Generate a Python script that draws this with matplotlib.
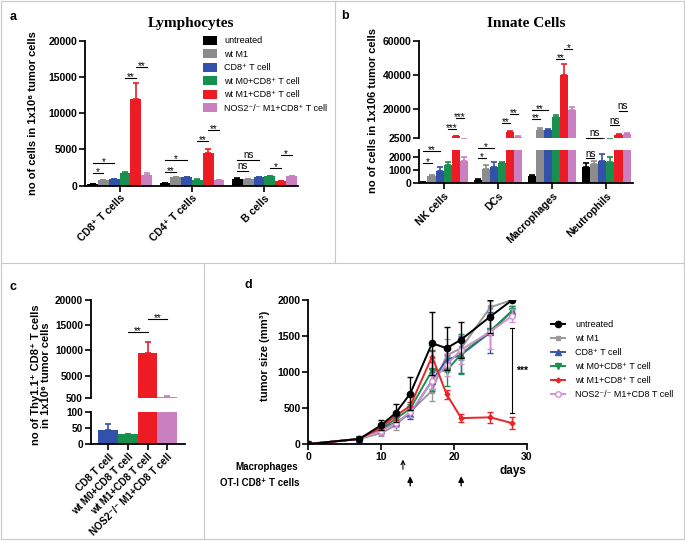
import numpy as np
import matplotlib
matplotlib.use('Agg')
import matplotlib.pyplot as plt
from matplotlib.lines import Line2D

plt.rcParams['font.family'] = ['Liberation Sans', 'DejaVu Sans']
plt.rcParams['font.weight'] = 'bold'

W, H = 685, 541

# treatment groups shared by panels a and b
groups = ['untreated', 'wt M1', 'CD8⁺ T cell', 'wt M0+CD8⁺ T cell',
          'wt M1+CD8⁺ T cell', 'NOS2⁻/⁻ M1+CD8⁺ T cell']
colors = ['#000000', '#8c8c8c', '#3152a8', '#16904c', '#ed1c24', '#c97fc0']

# panel a - lymphocytes
lymph_cats = ['CD8⁺ T cells', 'CD4⁺ T cells', 'B cells']
cd8_vals = [200, 700, 850, 1750, 12000, 1500]
cd8_err = [30, 60, 80, 100, 2100, 200]
cd4_vals = [300, 1150, 1150, 800, 4500, 750]
cd4_err = [40, 80, 80, 60, 550, 60]
bcell_vals = [950, 850, 1150, 1250, 600, 1250]
bcell_err = [100, 60, 80, 80, 60, 100]

# panel b - innate cells
innate_cats = ['NK cells', 'DCs', 'Macrophages', 'Neutrophils']
nk_vals = [80, 550, 950, 1350, 3700, 1700]
nk_err = [20, 60, 250, 250, 400, 250]
dc_vals = [280, 1100, 1250, 1500, 6000, 3300]
dc_err = [50, 250, 330, 120, 800, 300]
mac_vals = [550, 7400, 7200, 14900, 39800, 19200]
mac_err = [60, 1000, 600, 1300, 6500, 1900]
neu_vals = [1250, 1450, 1650, 1600, 4500, 5000]
neu_err = [250, 200, 550, 350, 500, 800]

# panel c - Thy1.1+ CD8+ T cells
thy_cats = ['CD8 T cell', 'wt M0+CD8 T cell', 'wt M1+CD8 T cell', 'NOS2⁻/⁻ M1+CD8 T cell']
thy_vals = [43, 30, 9450, 800]
thy_err = [18, 2, 2300, 60]

# panel d - tumor growth
days = [0, 7, 10, 12, 14, 17, 19, 21, 25, 28]
untreated_size = [0, 70, 260, 430, 700, 1400, 1330, 1450, 1770, 2000]
untreated_sem = [0, 10, 70, 120, 230, 440, 300, 250, 230, 0]
wtm1_size = [0, 70, 150, 260, 450, 740, 1230, 1330, 1900, 2000]
wtm1_sem = [0, 10, 40, 60, 70, 140, 230, 170, 80, 0]
cd8_size = [0, 70, 200, 300, 420, 880, 1170, 1240, 1550, 1850]
cd8_sem = [0, 10, 40, 50, 70, 120, 130, 260, 280, 60]
m0cd8_size = [0, 70, 200, 350, 490, 1020, 1020, 1250, 1570, 1850]
m0cd8_sem = [0, 10, 40, 50, 60, 280, 220, 280, 30, 60]
m1cd8_size = [0, 70, 230, 390, 530, 1215, 690, 360, 370, 290]
m1cd8_sem = [0, 10, 40, 60, 60, 80, 60, 60, 80, 80]
nos2_size = [0, 70, 180, 290, 440, 870, 1100, 1310, 1560, 1780]
nos2_sem = [0, 10, 40, 50, 60, 100, 150, 200, 240, 90]
d_labels = ['untreated', 'wt M1', 'CD8⁺ T cell', 'wt M0+CD8⁺ T cell',
            'wt M1+CD8⁺ T cell', 'NOS2⁻/⁻ M1+CD8 T cell']


def box(l, t, r, b):
    return [l / W, 1 - b / H, (r - l) / W, (b - t) / H]


def style(ax, bottom=True, lsize=7.5):
    for s in ['top', 'right']:
        ax.spines[s].set_visible(False)
    ax.spines['left'].set_linewidth(1.3)
    ax.spines['bottom'].set_linewidth(1.3)
    ax.tick_params(width=1.2, length=4, labelsize=lsize, pad=1.5)
    if not bottom:
        ax.spines['bottom'].set_visible(False)
        ax.tick_params(axis='x', bottom=False, labelbottom=False)


def draw_bars(ax, vals, errs, step, cols, labels=None):
    vals = np.array(vals)
    errs = np.array(errs)
    for i in range(vals.shape[1]):
        x = np.arange(vals.shape[0]) * step + i
        ax.bar(x, vals[:, i], width=1.0, color=cols[i],
               label=None if labels is None else labels[i])
        ax.errorbar(x, vals[:, i], yerr=[np.zeros(len(x)), errs[:, i]], fmt='none',
                    ecolor=cols[i], elinewidth=1.2, capsize=2, capthick=1.2)


def sig(ax, x0, x1, y, txt):
    ax.plot([x0, x1], [y, y], color='k', lw=0.8, clip_on=False)
    dy = 1 if txt == 'ns' else -1.5
    ax.annotate(txt, ((x0 + x1) / 2, y), xytext=(0, dy), textcoords='offset points',
                ha='center', va='baseline', fontsize=7, fontweight='normal',
                annotation_clip=False)


fig = plt.figure(figsize=(W / 100, H / 100), dpi=100)

# ---------------- panel a
step = 6.7
axa = fig.add_axes(box(85, 40.7, 298, 185.5))
draw_bars(axa, [cd8_vals, cd4_vals, bcell_vals], [cd8_err, cd4_err, bcell_err],
          step, colors, groups)
style(axa)
axa.set_xlim(-0.7, 19.0)
axa.set_ylim(0, 20000)
axa.set_yticks([0, 5000, 10000, 15000, 20000])
axa.set_xticks(np.arange(3) * step + 2.5)
axa.set_xticklabels(lymph_cats, rotation=45, ha='right', rotation_mode='anchor')
axa.set_title('Lymphocytes', family='Liberation Serif', fontsize=11, fontweight='bold', pad=10)
axa.legend(loc='upper left', bbox_to_anchor=(203 / W, 1 - 36 / H),
           bbox_transform=fig.transFigure, frameon=False,
           prop={'size': 6.5, 'weight': 'normal'}, handlelength=1.55, handleheight=1.1,
           handletextpad=0.8, labelspacing=0.45, borderpad=0, borderaxespad=0)
for g, i, j, y, t in [(0, 0, 1, 1710, '*'), (0, 0, 2, 3170, '*'), (0, 3, 4, 14900, '**'),
                      (0, 4, 5, 16400, '**'), (1, 0, 1, 1930, '**'), (1, 0, 2, 3540, '*'),
                      (1, 3, 4, 6160, '**'), (1, 4, 5, 7680, '**'), (2, 0, 1, 2030, 'ns'),
                      (2, 0, 2, 3540, 'ns'), (2, 3, 4, 2400, '*'), (2, 4, 5, 4230, '*')]:
    sig(axa, g * step + i, g * step + j, y, t)
fig.text(33 / W, 1 - 113 / H, 'no of cells in 1x10⁶ tumor cells', rotation=90,
         ha='center', va='center', fontsize=8)

# ---------------- panel b (broken axis)
bvals = [nk_vals, dc_vals, mac_vals, neu_vals]
berrs = [nk_err, dc_err, mac_err, neu_err]
axbu = fig.add_axes(box(419, 40.7, 632.7, 138.3))
axbl = fig.add_axes(box(419, 150, 632.7, 183.3))
for ax in (axbu, axbl):
    draw_bars(ax, bvals, berrs, step, colors)
    ax.set_xlim(-0.55, 25.85)
style(axbu, bottom=False)
style(axbl)
axbu.set_ylim(2500, 60000)
axbu.set_yticks([2500, 20000, 40000, 60000])
axbl.set_ylim(0, 2500)
axbl.set_yticks([0, 1000, 2000])
axbl.set_xticks(np.arange(4) * step + 2.5)
axbl.set_xticklabels(innate_cats, rotation=45, ha='right', rotation_mode='anchor')
axbu.set_title('Innate Cells', family='Liberation Serif', fontsize=11, fontweight='bold', pad=10)
for ax, g, i, j, y, t in [(axbl, 0, 0, 1, 1547, '*'), (axbl, 0, 0, 2, 2425, '**'),
                          (axbu, 0, 3, 4, 7800, '***'), (axbu, 0, 4, 5, 14600, '***'),
                          (axbl, 1, 0, 1, 1877, '*'), (axbl, 1, 0, 2, 2673, '*'),
                          (axbu, 1, 3, 4, 11340, '**'), (axbu, 1, 4, 5, 16800, '**'),
                          (axbu, 2, 0, 1, 13700, '**'), (axbu, 2, 0, 2, 19200, '**'),
                          (axbu, 2, 3, 4, 49000, '**'), (axbu, 2, 4, 5, 54900, '*'),
                          (axbl, 3, 0, 1, 1877, 'ns'), (axbu, 3, 0, 2, 2850, 'ns'),
                          (axbu, 3, 3, 4, 10300, 'ns'), (axbu, 3, 4, 5, 18800, 'ns')]:
    sig(ax, g * step + i, g * step + j, y, t)
fig.text(373 / W, 1 - 111 / H, 'no of cells in 1x106 tumor cells', rotation=90,
         ha='center', va='center', fontsize=8)

# ---------------- panel c (broken axis)
axcu = fig.add_axes(box(90.7, 300, 185, 398.3))
axcl = fig.add_axes(box(90.7, 411.7, 185, 444))
xc = np.arange(len(thy_vals))
for ax in (axcu, axcl):
    ax.bar(xc, thy_vals, width=1.0, color=colors[2:])
    for k in range(len(xc)):
        ax.errorbar(xc[k], thy_vals[k], yerr=[[0], [thy_err[k]]], fmt='none',
                    ecolor=colors[2 + k], elinewidth=1.2, capsize=2.5, capthick=1.2)
    ax.set_xlim(-0.886, 3.9)
style(axcu, bottom=False, lsize=7.2)
style(axcl, lsize=7.2)
axcu.set_ylim(500, 20000)
axcu.set_yticks([500, 5000, 10000, 15000, 20000])
axcl.set_ylim(0, 100)
axcl.set_yticks([0, 50, 100])
axcl.set_xticks(xc)
axcl.set_xticklabels(thy_cats, rotation=45, ha='right', rotation_mode='anchor')
sig(axcu, 1, 2, 13600, '**')
sig(axcu, 2, 3, 16170, '**')
fig.text(41 / W, 1 - 375 / H, 'no of Thy1.1⁺ CD8⁺ T cells\nin 1x10⁶ tumor cells', rotation=90,
         ha='center', va='center', fontsize=8, linespacing=1.05, multialignment='center')

# ---------------- panel d
axd = fig.add_axes(box(308.3, 300, 526.7, 444))
style(axd)
series = [
    (wtm1_size, wtm1_sem, '#9a9a9a', 's', 3.5, 'k', 1),
    (cd8_size, cd8_sem, '#3a56a8', '^', 4, 'k', 2),
    (m0cd8_size, m0cd8_sem, '#1a9050', 'v', 4, 'k', 3),
    (nos2_size, nos2_sem, '#d490cf', 'o', 4, 'w', 5),
    (m1cd8_size, m1cd8_sem, '#e8262a', 'D', 2.5, 'k', 4),
    (untreated_size, untreated_sem, '#000000', 'o', 4.5, 'k', 0),
]
handles = [None] * 6
for vals, err, c, m, ms, fc, idx in series:
    axd.errorbar(days, vals, yerr=err, fmt='none', ecolor=c, elinewidth=1.0,
                 capsize=2.5, capthick=1.0)
    ln, = axd.plot(days, vals, color=c, lw=1.4, marker=m, ms=ms,
                   mfc=(c if fc == 'k' else 'white'), mec=c, mew=1.0, label=d_labels[idx])
    handles[idx] = ln
axd.set_xlim(0, 30)
axd.set_ylim(0, 2000)
axd.set_xticks([0, 10, 20, 30])
axd.set_yticks([0, 500, 1000, 1500, 2000])
axd.plot([28, 28], [435, 1610], color='k', lw=0.8)
axd.plot([27.7, 28.3], [435, 435], color='k', lw=0.8)
axd.plot([27.7, 28.3], [1610, 1610], color='k', lw=0.8)
axd.text(28.5, 1010, '***', ha='left', va='center', fontsize=7.5)
axd.legend(handles=handles, loc='upper left', bbox_to_anchor=(551 / W, 1 - 320 / H),
           bbox_transform=fig.transFigure, frameon=False,
           prop={'size': 6.5, 'weight': 'normal'}, handlelength=1.5,
           handletextpad=1.2, labelspacing=0.55, borderpad=0, borderaxespad=0)
fig.text(265 / W, 1 - 356 / H, 'tumor size (mm³)', rotation=90, ha='center',
         va='center', fontsize=8)
fig.text(526.7 / W, 1 - 471 / H, 'days', ha='right', va='center', fontsize=8.5)
fig.text(298 / W, 1 - 466.7 / H, 'Macrophages', ha='right', va='center', fontsize=7)
fig.text(300 / W, 1 - 483.3 / H, 'OT-I CD8⁺ T cells', ha='right', va='center', fontsize=7)
axd.annotate('', xy=(13, -178), xytext=(13, -390), annotation_clip=False,
             arrowprops=dict(arrowstyle='->', lw=0.8, color='k', mutation_scale=7))
for dday in [14, 21]:
    axd.annotate('', xy=(dday, -410), xytext=(dday, -620), annotation_clip=False,
                 arrowprops=dict(arrowstyle='-|>', lw=1.0, color='k', mutation_scale=8))

# panel letters
for t, x, y in [('a', 12.7, 16.7), ('b', 345, 16), ('c', 13, 287), ('d', 248, 285)]:
    fig.text(x / W, 1 - y / H, t, ha='center', va='center', fontsize=9)

# panel borders
bc = '#c8c8c8'
for xs, ys in [([1, 683.5], [1, 1]), ([1, 683.5], [538.5, 538.5]), ([1, 1], [1, 538.5]),
               ([683.5, 683.5], [1, 538.5]), ([335, 335], [1, 263]), ([1, 683.5], [263, 263]),
               ([204, 204], [263, 538.5])]:
    fig.add_artist(Line2D([x / W for x in xs], [1 - y / H for y in ys], color=bc, lw=0.8))

fig.savefig('out.png', dpi=100)
plt.close(fig)
